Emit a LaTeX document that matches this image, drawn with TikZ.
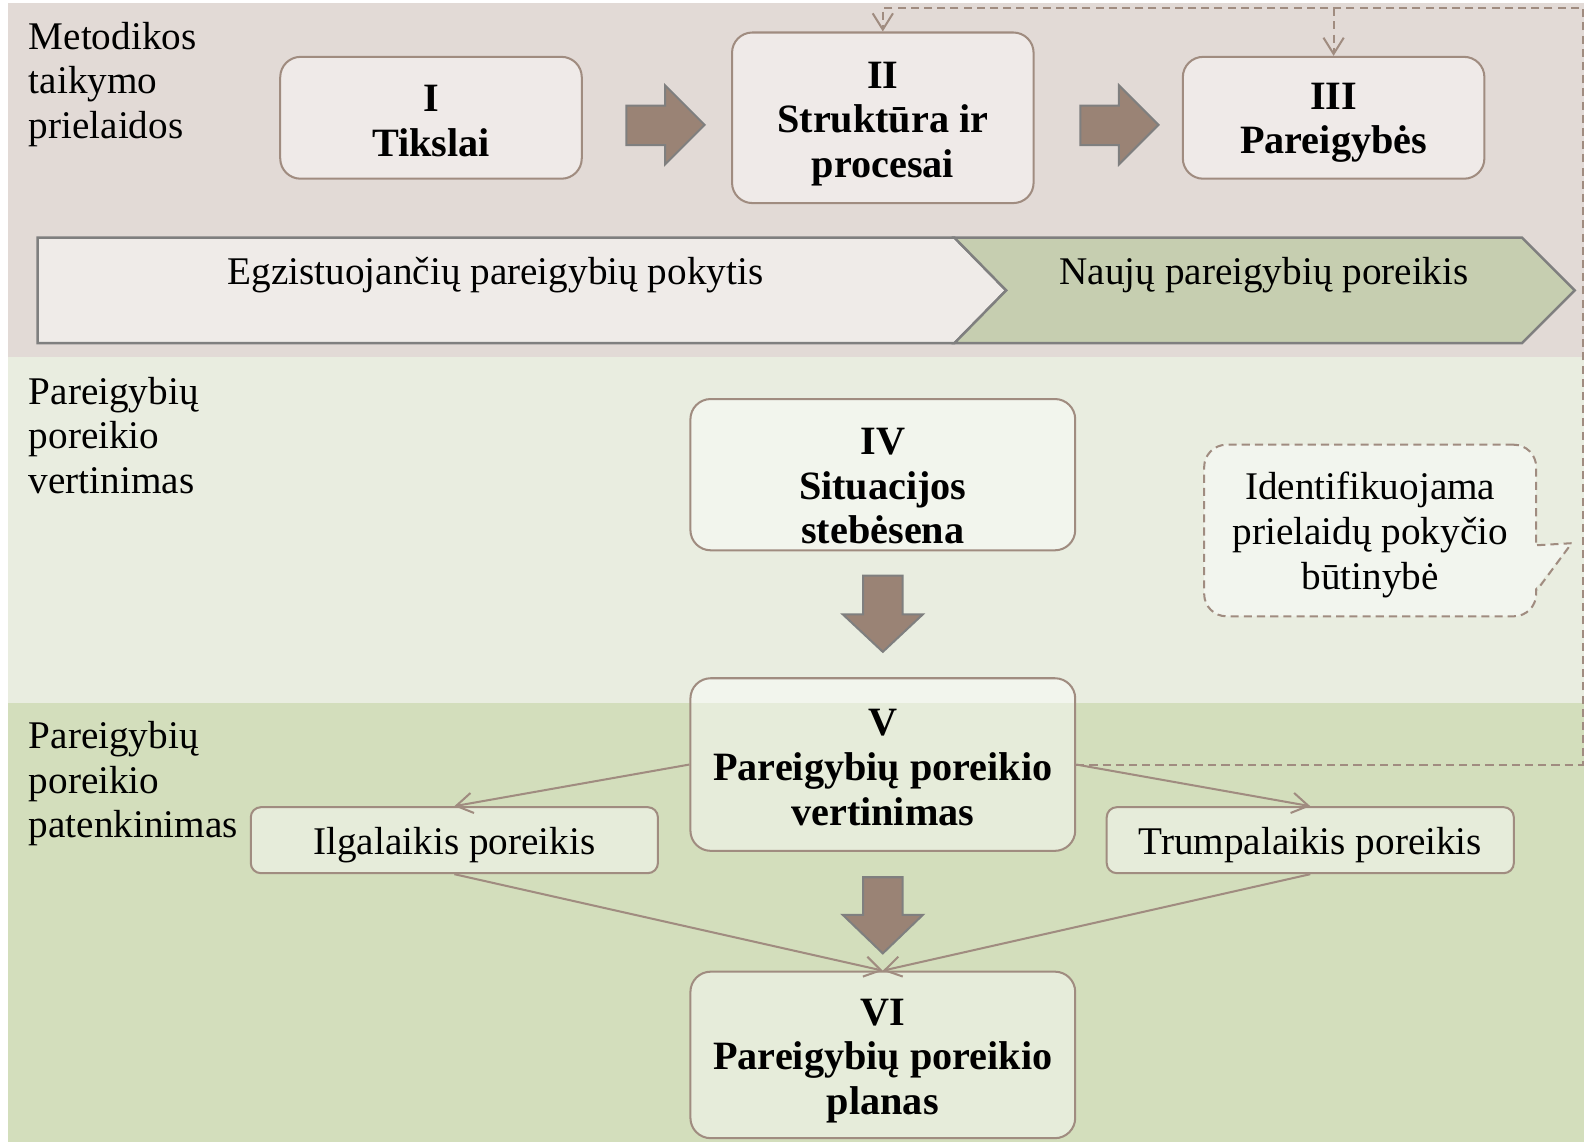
\documentclass[tikz,border=0pt]{standalone}
\usepackage{fontspec}
\setmainfont{Liberation Serif}
\usetikzlibrary{arrows.meta}

\definecolor{bandA}{RGB}{226,218,214}
\definecolor{bandB}{RGB}{233,237,224}
\definecolor{bandC}{RGB}{211,222,188}
\definecolor{boxline}{RGB}{160,140,128}
\definecolor{chevA}{RGB}{239,235,232}
\definecolor{chevB}{RGB}{198,206,176}
\definecolor{chevline}{RGB}{127,127,127}
\definecolor{fatfill}{RGB}{154,131,117}
\definecolor{callfill}{RGB}{242,245,238}

\begin{document}
\begin{tikzpicture}[x=0.5pt,y=-0.5pt,
  font=\fontsize{19.3}{22}\selectfont,
  box/.style={draw=boxline, line width=1pt, rounded corners=10pt,
    fill=white, fill opacity=0.45, inner sep=0pt,
    minimum width=148.5pt, minimum height=60pt},
  widebox/.style={box, minimum width=189.5pt},
  needbox/.style={box, rounded corners=5pt, minimum width=200.5pt, minimum height=32.5pt},
  boxtext/.style={align=center, inner sep=0pt, font=\fontsize{19.8}{22}\selectfont\bfseries},
  plaintext/.style={align=center, inner sep=0pt},
  sidelabel/.style={align=left, inner sep=0pt, anchor=west},
  chev/.style={draw=chevline, line width=1.2pt},
  fatarrow/.style={draw=chevline, line width=1pt, fill=fatfill},
  link/.style={draw=boxline, line width=1pt, -{Straight Barb[length=8pt,width=10pt]}},
  fb/.style={link, dash pattern=on 4pt off 2.5pt}
]
\useasboundingbox (0,0) rectangle (1568,1126);

% background bands
\fill[bandA] (8,3) rectangle (1560,352);
\fill[bandB] (8,352) rectangle (1560,692);
\fill[bandC] (8,692) rectangle (1560,1125);

% band titles
\node[sidelabel] (la) at (28,83) {Metodikos\\taikymo\\prielaidos};
\node[sidelabel] (lb) at (28,429) {Pareigybių\\poreikio\\vertinimas};
\node[sidelabel] (lc) at (28,772) {Pareigybių\\poreikio\\patenkinimas};

% top row of boxes
\node[box] (i) at (424.5,116) {};
\node[boxtext] (ti) at (424.5,119) {I\\Tikslai};
\node[box, minimum height=84pt] (ii) at (869.5,116) {};
\node[boxtext] (tii) at (869.5,122) {II\\Struktūra ir\\procesai};
\node[box] (iii) at (1313.5,116) {};
\node[boxtext] (tiii) at (1313.5,121) {III\\Pareigybės};

% block arrows between the top boxes
\draw[fatarrow] (617,104) -- (655,104) -- (655,84) -- (694,123) -- (655,162) -- (655,143) -- (617,143) -- cycle;
\draw[fatarrow] (1064,104) -- (1102,104) -- (1102,84) -- (1141,123) -- (1102,162) -- (1102,143) -- (1064,143) -- cycle;

% chevron band
\draw[chev, fill=chevA] (37,234) -- (940,234) -- (991,286) -- (940,338) -- (37,338) -- cycle;
\draw[chev, fill=chevB] (940,234) -- (1499,234) -- (1551,286) -- (1499,338) -- (940,338) -- (991,286) -- cycle;
\node[plaintext] (ea) at (488,271) {Egzistuojančių pareigybių pokytis};
\node[plaintext] (eb) at (1245,271) {Naujų pareigybių poreikis};

% assessment
\node[widebox, minimum height=74.5pt] (iv) at (869.5,467.5) {};
\node[boxtext] (tiv) at (869.5,479) {IV\\Situacijos\\stebėsena};
\draw[fatarrow] (850,567) -- (889,567) -- (889,605) -- (909,605) -- (869.5,642) -- (830,605) -- (850,605) -- cycle;

% callout
\node[draw=boxline, line width=1pt, dash pattern=on 4pt off 2.5pt, rounded corners=11pt,
  fill=callfill, minimum width=163.5pt, minimum height=84.5pt, inner sep=0pt]
  (co) at (1349.5,522.5) {};
\node[plaintext] (tco) at (1349.5,527) {Identifikuojama\\prielaidų pokyčio\\būtinybė};
\fill[callfill] (1511,537) -- (1548,535) -- (1511,581) -- cycle;
\draw[draw=boxline, line width=1pt, dash pattern=on 4pt off 2.5pt]
  (co.east |- 0,537) -- (1548,535) -- (co.east |- 0,581);

% needs
\node[widebox, minimum height=85pt] (v) at (869.5,753) {};
\node[boxtext] (tv) at (869.5,756) {V\\Pareigybių poreikio\\vertinimas};
\node[needbox] (il) at (447.5,827.5) {};
\node[plaintext] (til) at (447.5,832) {Ilgalaikis poreikis};
\node[needbox] (tr) at (1290.5,827.5) {};
\node[plaintext] (ttr) at (1290.5,832) {Trumpalaikis poreikis};
\draw[fatarrow] (850,864) -- (889,864) -- (889,901) -- (909,901) -- (869.5,939) -- (830,901) -- (850,901) -- cycle;
\node[widebox, minimum height=82pt] (vi) at (869.5,1039) {};
\node[boxtext] (tvi) at (869.5,1045) {VI\\Pareigybių poreikio\\planas};

% connectors
\draw[link] (v.west) -- (il.north);
\draw[link] (v.east) -- (tr.north);
\draw[link] (il.south) -- (vi.north);
\draw[link] (tr.south) -- (vi.north);

% feedback loop
\coordinate (fbr) at (1559,8);
\draw[fb] (v.east) -| (fbr) -| (ii.north);
\draw[fb] (iii.north |- fbr) -- (iii.north);
\end{tikzpicture}
\end{document}
